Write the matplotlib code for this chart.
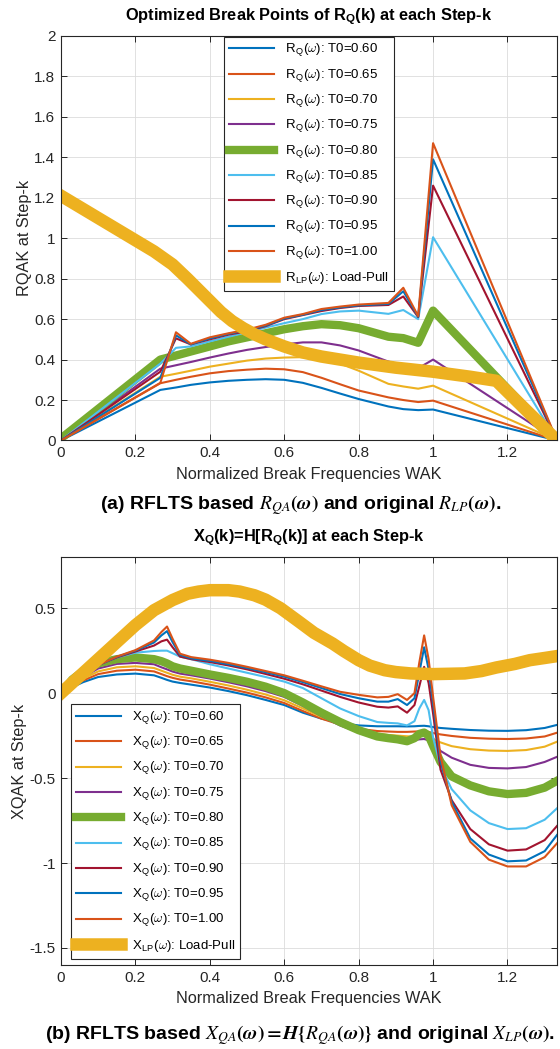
import matplotlib
matplotlib.use("Agg")
import matplotlib.pyplot as plt
from matplotlib.font_manager import FontProperties

plt.rcParams['font.family'] = ['Liberation Sans', 'DejaVu Sans']
plt.rcParams['mathtext.fontset'] = 'custom'
plt.rcParams['mathtext.rm'] = 'Liberation Sans'
plt.rcParams['mathtext.bf'] = 'Liberation Sans:bold'
plt.rcParams['mathtext.it'] = 'Liberation Sans:italic'
plt.rcParams['mathtext.sf'] = 'Liberation Sans'

# ---------------- data ----------------
t0_values = ['0.60', '0.65', '0.70', '0.75', '0.80', '0.85', '0.90', '0.95', '1.00']

# break frequencies for the piecewise R_Q curves
w_r = [0, 0.267, 0.309, 0.349, 0.4, 0.45, 0.5, 0.55, 0.6, 0.65, 0.7, 0.75, 0.8,
       0.88, 0.92, 0.96, 1.0, 1.333]
r_060 = [0, 0.25, 0.262, 0.275, 0.287, 0.295, 0.3, 0.303, 0.3, 0.285, 0.26, 0.232,
         0.205, 0.168, 0.155, 0.15, 0.153, 0]
r_065 = [0, 0.283, 0.3, 0.315, 0.332, 0.343, 0.35, 0.355, 0.352, 0.338, 0.31, 0.278,
         0.247, 0.213, 0.2, 0.19, 0.197, 0]
r_070 = [0, 0.315, 0.33, 0.345, 0.365, 0.38, 0.395, 0.405, 0.41, 0.412, 0.405, 0.38,
         0.345, 0.28, 0.267, 0.256, 0.271, 0]
r_075 = [0, 0.355, 0.372, 0.388, 0.41, 0.43, 0.448, 0.462, 0.475, 0.485, 0.485, 0.47,
         0.445, 0.39, 0.37, 0.357, 0.4, 0]
r_080 = [0.01, 0.4, 0.42, 0.44, 0.465, 0.49, 0.51, 0.53, 0.55, 0.565, 0.575, 0.57,
         0.555, 0.513, 0.506, 0.483, 0.642, 0]
r_085 = [0, 0.38, 0.458, 0.465, 0.49, 0.513, 0.535, 0.558, 0.58, 0.6, 0.625, 0.638,
         0.642, 0.626, 0.645, 0.6, 1.005, 0]
r_090 = [0, 0.34, 0.505, 0.475, 0.5, 0.523, 0.54, 0.565, 0.6, 0.62, 0.64, 0.655,
         0.665, 0.67, 0.712, 0.61, 1.26, 0]
r_095 = [0, 0.31, 0.52, 0.475, 0.505, 0.527, 0.545, 0.568, 0.603, 0.622, 0.645, 0.658,
         0.668, 0.675, 0.738, 0.612, 1.39, 0]
r_100 = [0, 0.285, 0.535, 0.478, 0.51, 0.53, 0.548, 0.572, 0.607, 0.625, 0.65, 0.662,
         0.672, 0.68, 0.755, 0.615, 1.47, 0]

# load-pull resistance
w_rlp = [0, 0.1, 0.2, 0.25, 0.3, 0.34, 0.37, 0.4, 0.43, 0.46, 0.49, 0.52, 0.55, 0.6,
         0.65, 0.7, 0.8, 0.9, 1.0, 1.1, 1.17, 1.333]
r_lp = [1.21, 1.1, 0.99, 0.935, 0.87, 0.8, 0.745, 0.69, 0.635, 0.59, 0.555, 0.525,
        0.5, 0.465, 0.435, 0.415, 0.385, 0.36, 0.34, 0.315, 0.295, 0.0]

# frequencies for the reactance curves
w_x = [0, 0.03, 0.06, 0.1, 0.15, 0.2, 0.25, 0.27, 0.285, 0.3, 0.32, 0.35, 0.4, 0.45,
       0.5, 0.55, 0.6, 0.65, 0.7, 0.75, 0.8, 0.85, 0.88, 0.905, 0.93, 0.95, 0.963,
       0.976, 0.988, 1.0, 1.02, 1.05, 1.1, 1.15, 1.2, 1.25, 1.3, 1.333]
x_060 = [0, 0.035, 0.065, 0.095, 0.11, 0.115, 0.105, 0.09, 0.078, 0.068, 0.06, 0.05,
         0.033, 0.012, -0.012, -0.04, -0.07, -0.115, -0.15, -0.175, -0.19, -0.195,
         -0.195, -0.195, -0.196, -0.195, -0.193, -0.192, -0.195, -0.2,
         -0.205, -0.21, -0.217, -0.221, -0.222, -0.218, -0.205, -0.187]
x_065 = [0, 0.04, 0.075, 0.112, 0.132, 0.138, 0.128, 0.112, 0.1, 0.09, 0.08, 0.07,
         0.05, 0.027, 0.003, -0.025, -0.058, -0.105, -0.15, -0.185, -0.21, -0.223,
         -0.226, -0.228, -0.228, -0.226, -0.225, -0.225, -0.228, -0.235,
         -0.243, -0.252, -0.263, -0.268, -0.27, -0.267, -0.255, -0.233]
x_070 = [0, 0.045, 0.085, 0.128, 0.152, 0.158, 0.148, 0.132, 0.12, 0.108, 0.097, 0.087,
         0.067, 0.045, 0.02, -0.008, -0.042, -0.09, -0.14, -0.182, -0.215, -0.238,
         -0.246, -0.25, -0.254, -0.255, -0.252, -0.25, -0.256, -0.27,
         -0.29, -0.312, -0.33, -0.338, -0.34, -0.335, -0.315, -0.286]
x_075 = [0, 0.05, 0.095, 0.145, 0.172, 0.178, 0.17, 0.152, 0.14, 0.127, 0.115, 0.105,
         0.086, 0.064, 0.04, 0.012, -0.022, -0.075, -0.135, -0.19, -0.23, -0.26,
         -0.268, -0.273, -0.278, -0.276, -0.272, -0.27, -0.278, -0.3,
         -0.34, -0.38, -0.422, -0.44, -0.443, -0.435, -0.405, -0.375]
x_080 = [0, 0.08, 0.13, 0.175, 0.2, 0.21, 0.2, 0.188, 0.175, 0.158, 0.145, 0.132,
         0.11, 0.09, 0.067, 0.038, 0.0, -0.055, -0.115, -0.17, -0.218, -0.255,
         -0.265, -0.272, -0.283, -0.265, -0.24, -0.232, -0.25, -0.31,
         -0.405, -0.49, -0.543, -0.578, -0.594, -0.587, -0.556, -0.516]
x_085 = [0, 0.06, 0.11, 0.165, 0.21, 0.238, 0.248, 0.25, 0.25, 0.235, 0.215, 0.2,
         0.17, 0.145, 0.12, 0.095, 0.068, 0.03, -0.03, -0.09, -0.135, -0.17,
         -0.175, -0.178, -0.19, -0.165, -0.09, -0.04, -0.1, -0.26,
         -0.43, -0.565, -0.69, -0.765, -0.8, -0.795, -0.745, -0.678]
x_090 = [0, 0.06, 0.11, 0.165, 0.21, 0.245, 0.28, 0.305, 0.315, 0.27, 0.215, 0.2,
         0.183, 0.163, 0.14, 0.113, 0.085, 0.052, 0.015, -0.022, -0.055, -0.08,
         -0.085, -0.078, -0.115, -0.07, 0.04, 0.155, 0.06, -0.12,
         -0.45, -0.63, -0.8, -0.89, -0.927, -0.92, -0.865, -0.782]
x_095 = [0, 0.06, 0.11, 0.165, 0.213, 0.25, 0.298, 0.34, 0.365, 0.3, 0.225, 0.205,
         0.19, 0.17, 0.148, 0.123, 0.097, 0.065, 0.03, -0.005, -0.03, -0.05,
         -0.05, -0.035, -0.07, -0.03, 0.12, 0.27, 0.14, -0.06,
         -0.4, -0.64, -0.855, -0.95, -0.99, -0.985, -0.93, -0.835]
x_100 = [0, 0.06, 0.11, 0.165, 0.215, 0.253, 0.31, 0.36, 0.392, 0.32, 0.232, 0.212,
         0.197, 0.178, 0.155, 0.13, 0.105, 0.073, 0.04, 0.008, -0.01, -0.025,
         -0.022, -0.006, -0.04, 0.0, 0.18, 0.34, 0.2, -0.02,
         -0.37, -0.66, -0.875, -0.98, -1.02, -1.02, -0.965, -0.884]

# load-pull reactance
w_xlp = [0, 0.07, 0.16, 0.2, 0.25, 0.3, 0.34, 0.37, 0.4, 0.45, 0.48, 0.52, 0.55,
         0.59, 0.64, 0.68, 0.73, 0.76, 0.8, 0.83, 0.87, 0.9, 0.94, 1.0, 1.085,
         1.13, 1.17, 1.22, 1.26, 1.3, 1.333]
x_lp = [0.0, 0.14, 0.32, 0.4, 0.488, 0.548, 0.585, 0.598, 0.606, 0.606, 0.598, 0.576,
        0.55, 0.5, 0.42, 0.355, 0.292, 0.248, 0.194, 0.162, 0.135, 0.124, 0.116,
        0.112, 0.116, 0.13, 0.151, 0.172, 0.194, 0.207, 0.218]

x_ticks = [0, 0.2, 0.4, 0.6, 0.8, 1.0, 1.2]
x_ticklabels = ['0', '0.2', '0.4', '0.6', '0.8', '1', '1.2']
r_ticks = [0, 0.2, 0.4, 0.6, 0.8, 1.0, 1.2, 1.4, 1.6, 1.8, 2.0]
r_ticklabels = ['0', '0.2', '0.4', '0.6', '0.8', '1', '1.2', '1.4', '1.6', '1.8', '2']
x_yticks = [-1.5, -1.0, -0.5, 0, 0.5]
x_yticklabels = ['-1.5', '-1', '-0.5', '0', '0.5']

# ---------------- styling ----------------
colors = [(0, 0.447, 0.741), (0.85, 0.325, 0.098), (0.929, 0.694, 0.125),
          (0.494, 0.184, 0.556), (0.466, 0.674, 0.188), (0.301, 0.745, 0.933),
          (0.635, 0.078, 0.184), (0, 0.447, 0.741), (0.85, 0.325, 0.098)]
lp_color = (0.929, 0.694, 0.125)
widths = [1.5, 1.5, 1.5, 1.5, 6.0, 1.5, 1.5, 1.5, 1.5]
ink = '#262626'

r_series = [r_060, r_065, r_070, r_075, r_080, r_085, r_090, r_095, r_100]
x_series = [x_060, x_065, x_070, x_075, x_080, x_085, x_090, x_095, x_100]

fig = plt.figure(figsize=(5.6, 10.49), dpi=100)
ax1 = fig.add_axes([0.1089, 0.5801, 0.8857, 0.3856])
ax2 = fig.add_axes([0.1089, 0.0801, 0.8857, 0.3887])

leg_font = FontProperties(family='Liberation Sans', size=9.5, math_fontfamily='cm')

for k, vals in enumerate(r_series):
    ax1.plot(w_r, vals, color=colors[k], lw=widths[k], solid_joinstyle='round',
             label=r'R$_\mathregular{Q}$($\omega$): T0=' + t0_values[k])
ax1.plot(w_rlp, r_lp, color=lp_color, lw=9, solid_joinstyle='round',
         label=r'R$_\mathregular{LP}$($\omega$): Load-Pull')

for k, vals in enumerate(x_series):
    ax2.plot(w_x, vals, color=colors[k], lw=widths[k], solid_joinstyle='round',
             label=r'X$_\mathregular{Q}$($\omega$): T0=' + t0_values[k])
ax2.plot(w_xlp, x_lp, color=lp_color, lw=9, solid_joinstyle='round',
         label=r'X$_\mathregular{LP}$($\omega$): Load-Pull')

for ax in (ax1, ax2):
    ax.set_xlim(0, 1.333)
    ax.set_xticks(x_ticks)
    ax.set_xticklabels(x_ticklabels)
    ax.grid(True, color='#dcdcdc', lw=0.6)
    ax.set_axisbelow(True)
    ax.tick_params(direction='in', length=4, width=0.7, colors=ink, labelsize=11,
                   top=True, right=True, pad=4)
    for s in ax.spines.values():
        s.set_color(ink)
        s.set_linewidth(0.8)
    ax.set_xlabel('Normalized Break Frequencies WAK', fontsize=11.7, color=ink,
                  labelpad=5)

ax1.set_ylim(0, 2)
ax1.set_yticks(r_ticks)
ax1.set_yticklabels(r_ticklabels)
ax1.set_ylabel('RQAK at Step-k', fontsize=11.7, color=ink, labelpad=2)

ax2.set_ylim(-1.6, 0.8)
ax2.set_yticks(x_yticks)
ax2.set_yticklabels(x_yticklabels)
ax2.set_ylabel('XQAK at Step-k', fontsize=11.7, color=ink, labelpad=2)

leg1 = ax1.legend(loc='upper center', bbox_to_anchor=(0.5, 0.998), prop=leg_font,
                  handlelength=3.4, labelspacing=0.62, borderaxespad=0,
                  fancybox=False, framealpha=1, edgecolor=ink, borderpad=0.4)
leg2 = ax2.legend(loc='lower left', bbox_to_anchor=(0.02, 0.015), prop=leg_font,
                  handlelength=3.4, labelspacing=0.62, borderaxespad=0,
                  fancybox=False, framealpha=1, edgecolor=ink, borderpad=0.4)
for leg in (leg1, leg2):
    leg.get_frame().set_linewidth(0.8)

fig.text(0.552, 1 - 17 / 1049, r'Optimized Break Points of R$_\mathbf{Q}$(k) at each Step-k',
         ha='center', va='center', fontsize=11.8, fontweight='bold', color='black')
fig.text(0.552, 1 - 538 / 1049, r'X$_\mathbf{Q}$(k)=H[R$_\mathbf{Q}$(k)] at each Step-k',
         ha='center', va='center', fontsize=11.8, fontweight='bold', color='black')

fig.text(0.536, 1 - 505 / 1049,
         r'(a) RFLTS based $\boldsymbol{R_{QA}(\omega)}$ and original $\boldsymbol{R_{LP}(\omega)}$.',
         ha='center', va='center', fontsize=14, fontweight='bold', color='black',
         math_fontfamily='stix')
fig.text(0.536, 1 - 1035 / 1049,
         r'(b) RFLTS based $\boldsymbol{X_{QA}(\omega)=H\{R_{QA}(\omega)\}}$ and original $\boldsymbol{X_{LP}(\omega)}$.',
         ha='center', va='center', fontsize=14, fontweight='bold', color='black',
         math_fontfamily='stix')

fig.savefig('out.png', dpi=100)
